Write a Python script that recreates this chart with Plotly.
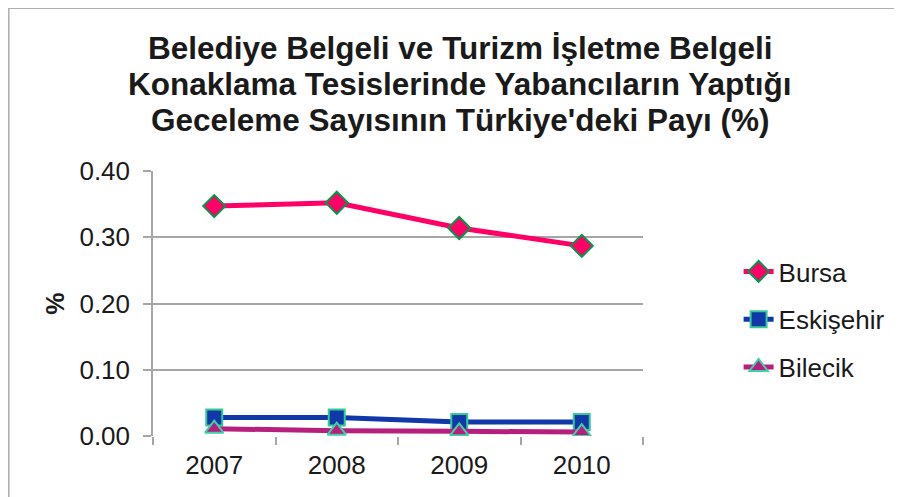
import plotly.graph_objects as go

years = ["2007", "2008", "2009", "2010"]
bursa = [0.347, 0.352, 0.314, 0.287]
eskisehir = [0.028, 0.028, 0.021, 0.021]
bilecik = [0.011, 0.008, 0.007, 0.006]
yticks = [0.0, 0.1, 0.2, 0.3, 0.4]
yticklabels = ["0.00", "0.10", "0.20", "0.30", "0.40"]
title_lines = [
    "Belediye Belgeli ve Turizm İşletme Belgeli",
    "Konaklama Tesislerinde Yabancıların Yaptığı",
    "Geceleme Sayısının Türkiye'deki Payı (%)",
]

# page body has an 8px margin, so the figure is 8px smaller and coordinates are offset
W, H = 894, 489
L, R, T, B = 145, 637, 163, 428

def px2x(px):
    return (px - L) / (R - L)

def py2y(py):
    return (B - py) / (B - T)

fig = go.Figure()
fig.add_trace(go.Scatter(
    x=years, y=bursa, name="Bursa", mode="lines+markers", legendgroup="a",
    line=dict(color="#FF0066", width=5),
    marker=dict(symbol="diamond", size=17, color="#FF0066",
                line=dict(color="#00994C", width=2))))
fig.add_trace(go.Scatter(
    x=years, y=eskisehir, name="Eskişehir", mode="lines+markers", legendgroup="b",
    line=dict(color="#1038A8", width=5),
    marker=dict(symbol="square", size=16, color="#1038A8",
                line=dict(color="#33CC99", width=2))))
fig.add_trace(go.Scatter(
    x=years, y=bilecik, name="Bilecik", mode="lines+markers", legendgroup="c",
    line=dict(color="#B71F7E", width=5),
    marker=dict(symbol="triangle-up", size=16, color="#B71F7E",
                line=dict(color="#40D0A8", width=2))))

fig.update_layout(
    width=W, height=H,
    margin=dict(l=L, r=W - R, t=T, b=H - B, pad=0),
    paper_bgcolor="white", plot_bgcolor="white",
    font=dict(family="Liberation Sans, Arial, sans-serif", color="#1a1a1a", size=26),
    showlegend=True,
    legend=dict(x=px2x(733), xanchor="left", y=py2y(240), yanchor="top",
                font=dict(size=26), tracegroupgap=11, bgcolor="rgba(0,0,0,0)",
                itemwidth=30),
    xaxis=dict(type="category", showgrid=False, showline=False,
               ticks="outside", tickson="boundaries", ticklen=8,
               tickcolor="#A6A6A6", tickwidth=1.5, zeroline=False,
               tickfont=dict(size=26), ticklabelstandoff=11, range=[-0.5, 3.5]),
    yaxis=dict(range=[0, 0.4], tickvals=yticks, ticktext=yticklabels,
               showgrid=True, gridcolor="#A6A6A6", gridwidth=1.5,
               showline=True, linecolor="#A6A6A6", linewidth=1.5,
               ticks="outside", ticklen=8, tickcolor="#A6A6A6", tickwidth=1.5,
               zeroline=False, tickfont=dict(size=26), ticklabelstandoff=8,
               title=dict(text="<b>%</b>", font=dict(size=25), standoff=8)),
)

# title, one annotation per line for exact line spacing
for i, line in enumerate(title_lines):
    fig.add_annotation(
        text="<b>" + line + "</b>", xref="paper", yref="paper",
        x=px2x(453.5), y=py2y(40 + 36 * i), xanchor="center", yanchor="middle",
        showarrow=False, font=dict(size=31.5, color="#1a1a1a"))

# outer chart border (top and left visible)
fig.add_shape(type="line", xref="paper", yref="paper",
              x0=px2x(0), x1=px2x(W + 5), y0=py2y(0), y1=py2y(0),
              line=dict(color="#B0B0B0", width=2))
fig.add_shape(type="line", xref="paper", yref="paper",
              x0=px2x(0), x1=px2x(0), y0=py2y(0), y1=py2y(H + 5),
              line=dict(color="#B0B0B0", width=2))

fig.write_html("out.html")
